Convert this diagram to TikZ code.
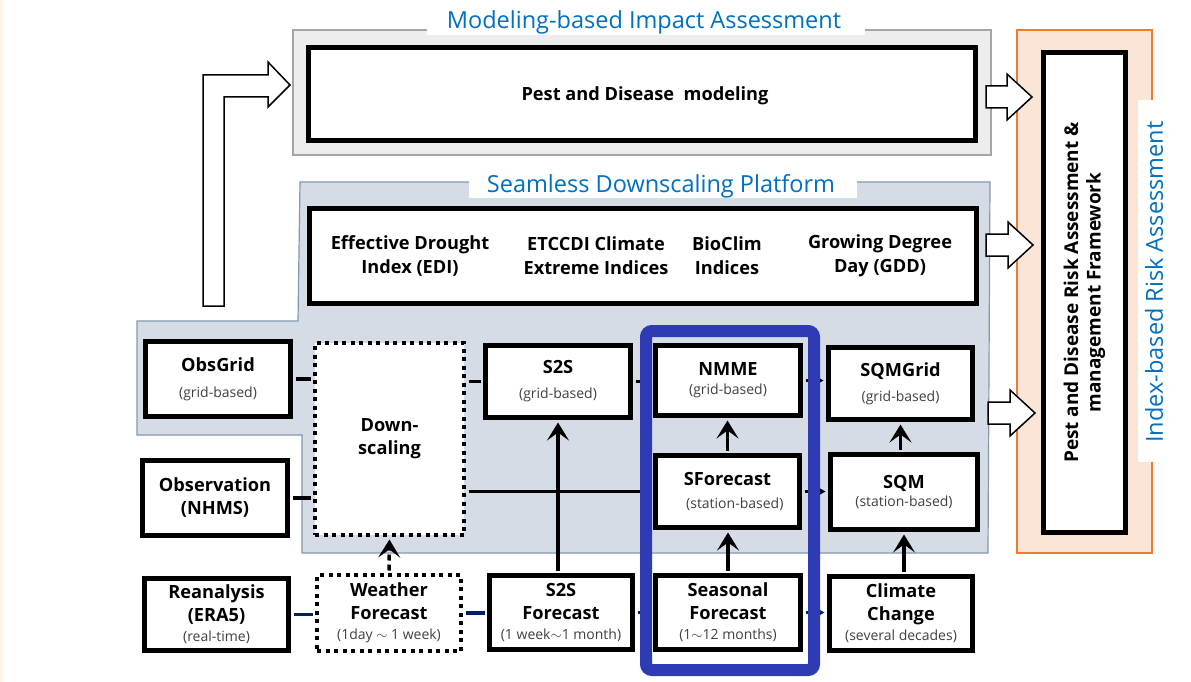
\documentclass[tikz,border=0pt]{standalone}
\usepackage{fontspec}
\setmainfont{Open Sans}
\usetikzlibrary{arrows.meta}
\definecolor{tblue}{HTML}{0070C0}
\definecolor{subgray}{HTML}{404040}
\definecolor{navyc}{HTML}{002060}
\definecolor{frameblue}{HTML}{2F3BB5}
\definecolor{orangec}{HTML}{ED7D31}
\definecolor{peach}{HTML}{FBE5D6}
\definecolor{platfill}{HTML}{D6DCE5}
\definecolor{platline}{HTML}{8497B0}
\definecolor{grayfill}{HTML}{EDEDED}
\definecolor{grayline}{HTML}{A5A5A5}
\definecolor{cream}{HTML}{FDF5E2}
\newcommand{\subtxt}[1]{{\fontsize{14}{16}\selectfont\mdseries\color{subgray}#1}}
\newcommand{\hollowarrow}[3]{%
  \draw[hollow] (#1,#3-11) -- (#2-25,#3-11) -- (#2-25,#3-23) -- (#2,#3) -- (#2-25,#3+23) -- (#2-25,#3+11) -- (#1,#3+11) -- cycle;}
\begin{document}
\begin{tikzpicture}[x=1pt,y=-1pt,
  box/.style={draw=black,line width=5pt,fill=white,inner sep=0pt,align=center,font=\fontsize{18.2}{23}\selectfont\bfseries},
  dotbox/.style={box,line width=4pt,dash pattern=on 4pt off 4.5pt},
  txt/.style={inner sep=0pt,align=center,font=\fontsize{18.2}{24}\selectfont\bfseries},
  ttl/.style={inner sep=0pt,font=\fontsize{23.5}{26}\selectfont,text=tblue},
  hollow/.style={draw=black,line width=1.5pt,fill=white,line join=miter},
  conn/.style={draw=black,line width=3.5pt,shorten <=2.5pt,shorten >=2.5pt},
  navy/.style={draw=navyc,line width=3.5pt,shorten <=2.5pt,shorten >=2.5pt},
  bigtip/.style={-{Stealth[length=18pt,width=22pt,inset=8pt]}},
  smalltip/.style={-{Stealth[length=10pt,width=11pt,inset=2pt]}},
]
\useasboundingbox (0,0) rectangle (1191,682);
\fill[white] (0,0) rectangle (1191,682);
\fill[cream] (0,0) rectangle (3,682);

% Modeling-based group
\draw[fill=grayfill,draw=grayline,line width=1.5pt] (293,30) rectangle (991,155);
\fill[white] (427,8) rectangle (865,35);
\node[ttl] (ttlmodel) at (644,22) {Modeling-based Impact Assessment};

% Seamless platform group
\draw[fill=platfill,draw=platline,line width=1.2pt]
  (300,182) -- (990,182) -- (988,553) -- (302,553) -- (302,435) -- (137,435) -- (137,321) -- (298,321) -- cycle;
\fill[white] (469,170) rectangle (857,198);
\node[ttl] (ttlseam) at (661,186) {Seamless Downscaling Platform};

% left hollow arrow
\draw[hollow] (203,306) -- (203,75) -- (268,75) -- (268,62) -- (290,85) -- (268,107) -- (268,97) -- (224,97) -- (224,306) -- cycle;

% orange group
\draw[fill=peach,draw=orangec,line width=1.5pt] (1017,30) rectangle (1152,553);
\hollowarrow{986}{1032}{97}
\hollowarrow{986}{1033}{245}
\hollowarrow{988}{1035}{413}
\fill[white] (1138,100) rectangle (1170,462);
\node[ttl,rotate=90] (ttlindex) at (1154,282) {Index-based Risk Assessment};

% risk box
\node[box,minimum width=82pt,minimum height=480pt] (risk) at (1084.5,292.5) {};
\node[txt,rotate=90,font=\fontsize{19}{22.5}\selectfont\bfseries] (risktxt) at (risk.center) {Pest and Disease Risk Assessment \&\\management Framework};

% top boxes
\node[box,minimum width=667pt,minimum height=93pt] (pest) at (642,94) {};
\node[txt] (pesttxt) at (645,96) {Pest and Disease\ \ modeling};
\node[box,minimum width=667pt,minimum height=95pt] (indices) at (643,256) {};
\node[txt] (edi) at (410,256) {Effective Drought\\Index (EDI)};
\node[txt] (etccdi) at (596,256) {ETCCDI Climate\\Extreme Indices};
\node[txt] (bioclim) at (727,256) {BioClim\\Indices};
\node[txt] (gdd) at (880,256) {Growing Degree\\Day (GDD)};

% lower boxes
\node[box,minimum width=145pt,minimum height=75pt] (obsgrid) at (218,379) {ObsGrid\\[3pt]\subtxt{(grid-based)}};
\node[box,minimum width=145pt,minimum height=75pt] (obs) at (215,498) {Observation\\(NHMS)};
\node[box,minimum width=144pt,minimum height=72pt] (rean) at (216.5,614.5) {Reanalysis\\(ERA5)\\[-3pt]\subtxt{(real-time)}};
\node[dotbox,minimum width=149pt,minimum height=192pt] (down) at (389.5,439) {Down-\\scaling};
\node[dotbox,minimum width=144pt,minimum height=76pt] (weather) at (389,613) {Weather\\Forecast\\[-3pt]\subtxt{(1day $\sim$ 1 week)}};
\node[box,minimum width=145pt,minimum height=72pt] (s2sg) at (558,381.5) {S2S\\[2pt]\subtxt{(grid-based)}};
\node[box,minimum width=145pt,minimum height=70pt] (nmme) at (728,380.5) {NMME\\[-4pt]\subtxt{(grid-based)}};
\node[box,minimum width=144pt,minimum height=72pt] (sfc) at (727.5,491.5) {SForecast\\\subtxt{\ \ \ \ (station-based)}};
\node[box,minimum width=143pt,minimum height=74pt] (s2sf) at (561,612.5) {S2S\\Forecast\\[-3pt]\subtxt{(1 week$\sim$1 month)}};
\node[box,minimum width=145pt,minimum height=74pt] (seas) at (728,612.5) {Seasonal\\Forecast\\[-3pt]\subtxt{(1$\sim$12 months)}};
\node[box,minimum width=144pt,minimum height=72pt] (sqmg) at (900.5,383.5) {SQMGrid\\[2pt]\subtxt{(grid-based)}};
\node[box,minimum width=147pt,minimum height=75pt] (sqm) at (904,492) {SQM\\[-5pt]\subtxt{(station-based)}};
\node[box,minimum width=143pt,minimum height=74pt] (cc) at (901,613.5) {Climate\\Change\\[-3pt]\subtxt{(several decades)}};

% connectors
\draw[conn] (obsgrid.east) -- (obsgrid.east -| down.west);
\draw[conn] (s2sg.west -| down.east) -- (s2sg.west);
\draw[conn] (s2sg.east) -- (s2sg.east -| nmme.west);
\draw[conn,smalltip] (nmme.east) -- (nmme.east -| sqmg.west);
\draw[conn] (obs.east) -- (obs.east -| down.west);
\draw[conn] (sfc.west -| down.east) -- (sfc.west);
\draw[conn,smalltip] (sfc.east) -- (sfc.east -| sqm.west);
\draw[navy] (rean.east) -- (rean.east -| weather.west);
\draw[navy] (weather.east) -- (weather.east -| s2sf.west);
\draw[navy] (s2sf.east) -- (s2sf.east -| seas.west);
\draw[navy,smalltip] (seas.east) -- (seas.east -| cc.west);
\draw[conn,bigtip,dash pattern=on 6pt off 4pt] (weather.north) -- (down.south);
\draw[conn,bigtip] (s2sg.south |- s2sf.north) -- (s2sg.south);
\draw[conn,bigtip] (seas.north) -- (seas.north |- sfc.south);
\draw[conn,bigtip] (sfc.north) -- (sfc.north |- nmme.south);
\draw[conn,bigtip] (sqm.south |- cc.north) -- (sqm.south);
\draw[conn,bigtip] (sqmg.south |- sqm.north) -- (sqmg.south);

% blue highlight frame
\draw[draw=frameblue,line width=12pt,rounded corners=6pt] (646,331) rectangle (814,670);
\end{tikzpicture}
\end{document}
